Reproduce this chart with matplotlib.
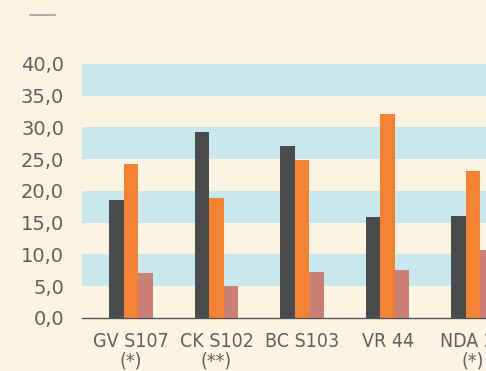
import numpy as np
import matplotlib
matplotlib.use("Agg")
import matplotlib.pyplot as plt
from matplotlib.lines import Line2D

categories = ["GV S107\n(*)", "CK S102\n(**)", "BC S103", "VR 44", "NDA 22\n(*)"]
dark = [18.6, 29.3, 27.1, 15.9, 16.1]
orange = [24.3, 18.9, 24.9, 32.1, 23.1]
pink = [7.1, 5.1, 7.2, 7.6, 10.7]
yticks = [0, 5, 10, 15, 20, 25, 30, 35, 40]

bg = "#fdf3e3"
band = "#c9e8ed"
txt = "#606060"

fig = plt.figure(figsize=(4.86, 3.71), dpi=100, facecolor=bg)
ax = fig.add_axes([0.169, 0.143, 0.831, 0.685])
ax.set_facecolor(bg)

for lo in yticks[1::2]:
    ax.axhspan(lo, lo + 5, color=band, lw=0, zorder=0)

x = np.arange(len(categories))
w = 0.17
ax.bar(x - w, dark, w, color="#4a4b4d", zorder=2)
ax.bar(x, orange, w, color="#f58132", zorder=2)
ax.bar(x + w, pink, w, color="#cc7f74", zorder=2)

ax.set_xlim(-0.57, 4.15)
ax.set_ylim(0, 40)
ax.set_yticks(yticks)
ax.set_yticklabels([f"{v:.1f}".replace(".", ",") for v in yticks],
                   fontsize=14, color=txt)
ax.set_xticks(x)
ax.set_xticklabels(categories, fontsize=14, color=txt, fontstretch="condensed",
                   linespacing=1.05)
ax.tick_params(axis="y", length=0, pad=13)
ax.tick_params(axis="x", length=0, pad=10)

for s in ["top", "right", "left"]:
    ax.spines[s].set_visible(False)
ax.spines["bottom"].set_color("#555555")
ax.spines["bottom"].set_linewidth(1.0)
ax.spines["bottom"].set_zorder(3)

fig.add_artist(Line2D([30 / 486, 55 / 486], [1 - 15 / 371, 1 - 15 / 371],
                      color="#a0a0a0", lw=1.2))

fig.savefig("out.png", dpi=100, facecolor=bg)
